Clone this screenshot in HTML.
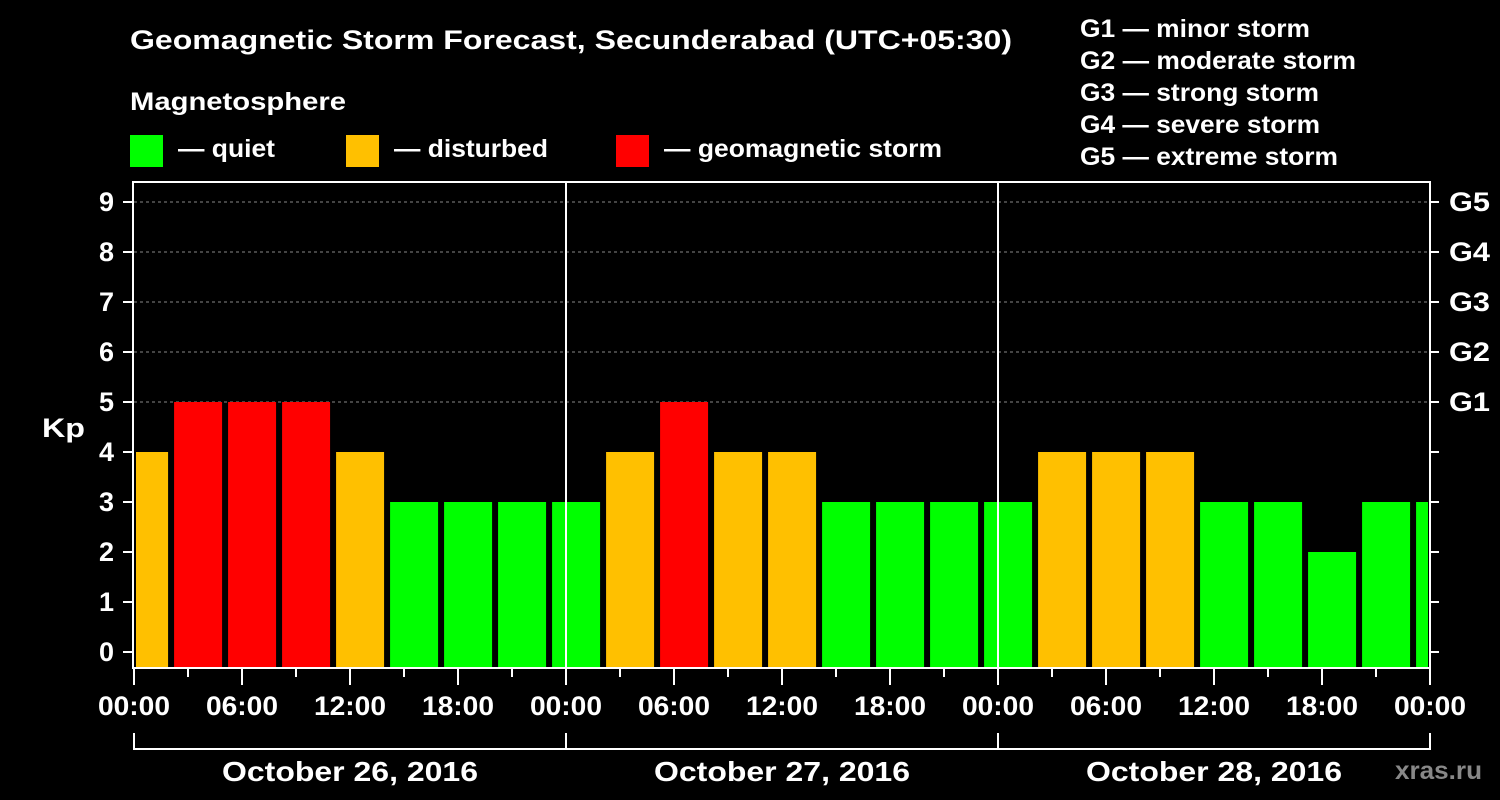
<!DOCTYPE html>
<html><head><meta charset="utf-8"><style>
body{margin:0;background:#000;width:1500px;height:800px;overflow:hidden}
svg{display:block}
text{font-family:"Liberation Sans",Arial,sans-serif;font-weight:bold;fill:#fff}
</style></head><body>
<svg id="c" width="1500" height="800">
<text x="130" y="49" font-size="27" textLength="882" lengthAdjust="spacingAndGlyphs">Geomagnetic Storm Forecast, Secunderabad (UTC+05:30)</text>
<text x="130" y="110" font-size="25" textLength="216" lengthAdjust="spacingAndGlyphs">Magnetosphere</text>
<g>
<rect x="130" y="135" width="33" height="32" fill="#00ff00"/>
<text x="178" y="157" font-size="25" textLength="97" lengthAdjust="spacingAndGlyphs">— quiet</text>
<rect x="346" y="135" width="33" height="32" fill="#ffc000"/>
<text x="394" y="157" font-size="25" textLength="154" lengthAdjust="spacingAndGlyphs">— disturbed</text>
<rect x="616" y="135" width="33" height="32" fill="#ff0000"/>
<text x="664" y="157" font-size="25" textLength="278" lengthAdjust="spacingAndGlyphs">— geomagnetic storm</text>
</g>
<g font-size="25">
<text x="1080" y="37" textLength="230" lengthAdjust="spacingAndGlyphs">G1 — minor storm</text>
<text x="1080" y="69" textLength="276" lengthAdjust="spacingAndGlyphs">G2 — moderate storm</text>
<text x="1080" y="101" textLength="239" lengthAdjust="spacingAndGlyphs">G3 — strong storm</text>
<text x="1080" y="133" textLength="240" lengthAdjust="spacingAndGlyphs">G4 — severe storm</text>
<text x="1080" y="165" textLength="258" lengthAdjust="spacingAndGlyphs">G5 — extreme storm</text>
</g>
<g id="plot"></g>
<text x="1395" y="779" font-size="25" textLength="87" lengthAdjust="spacingAndGlyphs" style="fill:#888">xras.ru</text>
</svg>
<script>
const kpValues=[4,5,5,5,4,3,3,3,3,4,5,4,4,3,3,3,3,4,4,4,3,3,2,3,3];
const yTicks=[0,1,2,3,4,5,6,7,8,9];
const gLabels=["G1","G2","G3","G4","G5"];
const timeLabels=["00:00","06:00","12:00","18:00"];
const dayLabels=["October 26, 2016","October 27, 2016","October 28, 2016"];
const NS="http://www.w3.org/2000/svg";
const g=document.getElementById('plot');
const X0=134,DAY=432,Y0=652,UNIT=50,TOP=182,BOT=668,XR=1430;
const xh=h=>X0+h*DAY/24;
const y=v=>Y0-v*UNIT;
function mk(t,a){const e=document.createElementNS(NS,t);for(const k in a)e.setAttribute(k,a[k]);g.appendChild(e);return e;}
function col(v){return v>=5?"#ff0000":v>=4?"#ffc000":"#00ff00";}
for(const v of yTicks){if(v>=5){const l=mk('line',{x1:X0,x2:XR,y1:y(v),y2:y(v),stroke:'#888','stroke-dasharray':'3,3','stroke-width':1});

}}
kpValues.forEach((v,i)=>{let a=xh(-0.94+3*i)+3,b=a+48;a=Math.max(a,X0+2);b=Math.min(b,XR-2);
const r=mk('rect',{x:a,y:y(v),width:b-a,height:BOT-1-y(v),fill:col(v)});

});
const f=mk('rect',{x:X0-1,y:TOP,width:XR-X0+1,height:BOT-TOP,fill:'none',stroke:'#fff','stroke-width':2});


for(let d=1;d<3;d++){const l=mk('line',{x1:xh(24*d),x2:xh(24*d),y1:TOP,y2:BOT,stroke:'#fff','stroke-width':2});

}
for(const v of yTicks){mk('line',{x1:X0-11,x2:X0-2,y1:y(v),y2:y(v),stroke:'#fff','stroke-width':2});
mk('line',{x1:XR,x2:XR+9,y1:y(v),y2:y(v),stroke:'#fff','stroke-width':2});
const t=mk('text',{x:X0-20,y:y(v)+9,'font-size':27,'text-anchor':'end'});t.textContent=v;

}
gLabels.forEach((s,i)=>{const t=mk('text',{x:XR+19,y:y(5+i)+9,'font-size':27,textLength:41,lengthAdjust:'spacingAndGlyphs'});t.textContent=s;

});
const kp=mk('text',{x:42,y:437,'font-size':27,textLength:43,lengthAdjust:'spacingAndGlyphs'});kp.textContent='Kp';


for(let h=0;h<=72;h+=3){const maj=h%6==0;mk('line',{x1:xh(h),x2:xh(h),y1:BOT,y2:BOT+(maj?17:9),stroke:'#fff','stroke-width':2});
if(maj){const t=mk('text',{x:xh(h)-36,y:715,'font-size':27,textLength:72,lengthAdjust:'spacingAndGlyphs'});t.textContent=timeLabels[(h/6)%4];

}}
dayLabels.forEach((s,d)=>{const a=xh(24*d),b=xh(24*d+24);
mk('polyline',{points:`${a},733 ${a},749 ${b},749 ${b},733`,fill:'none',stroke:'#fff','stroke-width':2});
const t=mk('text',{x:(a+b)/2-128,y:781,'font-size':28,textLength:256,lengthAdjust:'spacingAndGlyphs'});t.textContent=s;

});
</script>
</body></html>
